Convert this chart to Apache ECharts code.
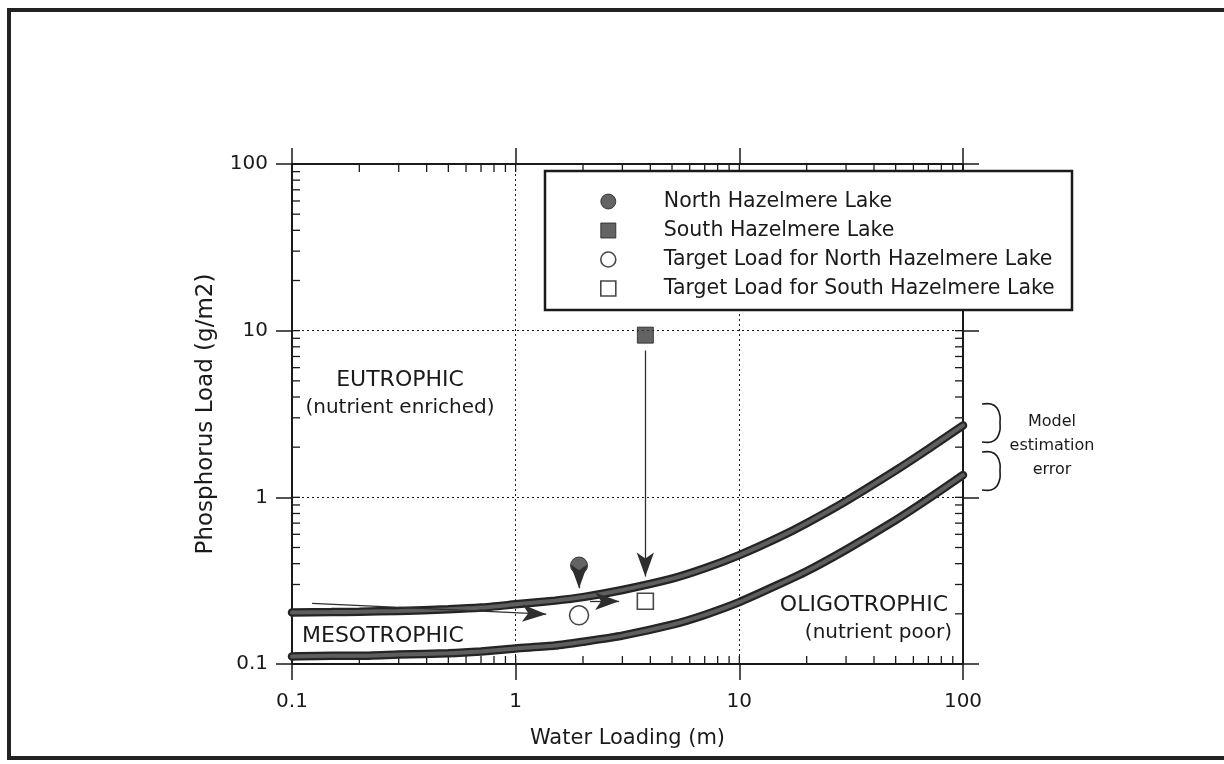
<!DOCTYPE html>
<html>
<head>
<meta charset="utf-8">
<title>Phosphorus loading vs water loading</title>
<script src="https://cdn.jsdelivr.net/npm/echarts@6/dist/echarts.min.js"></script>
<style>
  html, body { margin: 0; padding: 0; background: #ffffff; }
  #chart { width: 1224px; height: 764px; }
</style>
</head>
<body>
<div id="chart"></div>
<script>
// ---- data -------------------------------------------------------------
// axis decades (both axes run 0.1 .. 100 on a log scale)
const decadeTicks = [0.1, 1, 10, 100];
const decadeLabels = ['0.1', '1', '10', '100'];

// trophic boundary curves: phosphorus load (g/m2) against water loading (m)
const waterLoading = [0.1, 0.15, 0.2, 0.3, 0.5, 0.7, 1, 1.5, 2, 3, 5, 7, 10, 15, 20, 30, 50, 70, 100];
const eutrophicBoundary = [0.204, 0.205, 0.206, 0.208, 0.213, 0.218, 0.228, 0.240, 0.252, 0.278,
  0.325, 0.375, 0.45, 0.575, 0.70, 0.95, 1.45, 1.95, 2.70];
const oligotrophicBoundary = [0.111, 0.112, 0.112, 0.114, 0.116, 0.119, 0.124, 0.129, 0.136, 0.148,
  0.172, 0.197, 0.235, 0.30, 0.36, 0.485, 0.73, 0.98, 1.36];

// lakes [water loading, phosphorus load]
const northLake = [1.92, 0.39];
const southLake = [3.8, 9.4];
const northTarget = [1.92, 0.196];
const southTarget = [3.8, 0.238];

// load-reduction arrows [from, to]
const arrowInflow = [[0.123, 0.231], [1.37, 0.199]];
const arrowNorthDown = [[1.92, 0.36], [1.92, 0.285]];
const arrowSouthDown = [[3.8, 7.6], [3.8, 0.335]];
const arrowNorthToSouth = [[2.15, 0.238], [2.9, 0.238]];

const seriesNames = [
  'North Hazelmere Lake',
  'South Hazelmere Lake',
  'Target Load for North Hazelmere Lake',
  'Target Load for South Hazelmere Lake'
];

// ---- styling ----------------------------------------------------------
const FONT = '"DejaVu Sans", "Liberation Sans", sans-serif';
const INK = '#1a1a1a';
const FILL = '#3c3c3c';
const SQUARE_ICON = 'path://M0,0L10,0L10,10L0,10Z';
const AX_MIN = 0.1, AX_MAX = 100;

// minor ticks at 2..9 within each decade, plus inner halves of the 1 and 10 ticks
const innerTicks = [];
[0.1, 1, 10].forEach(function (d) {
  for (let k = 2; k <= 9; k++) innerTicks.push(+(d * k).toPrecision(3));
});
innerTicks.push(1, 10);

function decadeLabel(v) {
  const i = Math.round(Math.log10(v)) + 1;
  return decadeLabels[i] !== undefined ? decadeLabels[i] : '';
}

const chart = echarts.init(document.getElementById('chart'), null, { renderer: 'canvas' });

function logAxis(position, withLabels, name) {
  return {
    type: 'log',
    logBase: 10,
    min: AX_MIN,
    max: AX_MAX,
    position: position,
    splitNumber: 3,
    name: name || '',
    axisLine: { show: true, lineStyle: { color: INK, width: 2 } },
    axisTick: { show: true, inside: false, length: 16, lineStyle: { color: INK, width: 1.5 } },
    minorTick: { show: false },
    axisLabel: {
      show: withLabels,
      formatter: decadeLabel,
      color: INK,
      fontFamily: FONT,
      fontSize: 20
    },
    splitLine: withLabels
      ? { show: true, lineStyle: { color: INK, width: 1, type: [2, 3] } }
      : { show: false }
  };
}

const xBottom = logAxis('bottom', true, 'Water Loading (m)');
xBottom.nameLocation = 'middle';
xBottom.nameGap = 64;
xBottom.nameTextStyle = { fontFamily: FONT, fontSize: 21, color: INK };
xBottom.axisLabel.margin = 28;

const xTop = logAxis('top', false);

const yLeft = logAxis('left', true, 'Phosphorus Load (g/m2)');
yLeft.nameLocation = 'middle';
yLeft.nameGap = 74;
yLeft.nameRotate = 90;
yLeft.nameTextStyle = { fontFamily: FONT, fontSize: 23, color: INK };
yLeft.axisLabel.margin = 24;

const yRight = logAxis('right', false);

function arrowLine(pair) {
  return [{ coord: pair[0] }, { coord: pair[1] }];
}

const arrowStyle = {
  silent: true,
  animation: false,
  symbol: ['none', 'arrow'],
  symbolSize: [13, 24],
  label: { show: false },
  lineStyle: { color: '#2e2e2e', width: 1.3, type: 'solid' },
  emphasis: { disabled: true }
};

function boundarySeries(values, color, width, z) {
  return {
    type: 'line',
    data: waterLoading.map(function (x, i) { return [x, values[i]]; }),
    showSymbol: false,
    smooth: 0.2,
    silent: true,
    z: z,
    lineStyle: { color: color, width: width, cap: 'round' },
    emphasis: { disabled: true }
  };
}

// a right-hand brace ")" with short serifs, spanning y0..y1 at x
function bracePoints(x, y0, y1) {
  const mid = (y0 + y1) / 2;
  return [
    [x, y0], [x + 9, y0], [x + 15, y0 + 4], [x + 18, y0 + 12],
    [x + 18, mid], [x + 18, y1 - 12], [x + 15, y1 - 4], [x + 9, y1], [x, y1]
  ];
}

const option = {
  backgroundColor: '#ffffff',
  animation: false,
  grid: { left: 292, right: 261, top: 164, bottom: 100, containLabel: false },
  xAxis: [xBottom, xTop],
  yAxis: [yLeft, yRight],
  legend: {
    orient: 'vertical',
    left: 600,
    top: 191,
    z: 6,
    padding: 0,
    itemWidth: 15,
    itemHeight: 15,
    itemGap: 8,
    selectedMode: false,
    textStyle: { fontFamily: FONT, fontSize: 20.5, color: INK, padding: [0, 0, 0, 43] },
    data: [
      { name: seriesNames[0], icon: 'circle', itemStyle: { color: FILL, borderColor: '#222', borderWidth: 1 } },
      { name: seriesNames[1], icon: SQUARE_ICON, itemStyle: { color: FILL, borderColor: '#222', borderWidth: 1 } },
      { name: seriesNames[2], icon: 'circle', itemStyle: { color: '#fff', borderColor: INK, borderWidth: 1.6 } },
      { name: seriesNames[3], icon: SQUARE_ICON, itemStyle: { color: '#fff', borderColor: INK, borderWidth: 1.6 } }
    ]
  },
  series: [
    // boundary bands: dark rim with a lighter core
    boundarySeries(eutrophicBoundary, '#242424', 8.5, 2),
    boundarySeries(eutrophicBoundary, '#5e5e5e', 4, 2),
    boundarySeries(oligotrophicBoundary, '#242424', 8.5, 2),
    boundarySeries(oligotrophicBoundary, '#5e5e5e', 4, 2),
    {
      // minor ticks drawn inside the frame on all four sides
      type: 'custom',
      silent: true,
      clip: false,
      z: 2,
      data: innerTicks.map(function (v) { return [v, v]; }),
      renderItem: function (params, api) {
        const v = api.value(0);
        const b = api.coord([v, AX_MIN]);
        const t = api.coord([v, AX_MAX]);
        const l = api.coord([AX_MIN, v]);
        const r = api.coord([AX_MAX, v]);
        const len = 8;
        const style = { stroke: INK, lineWidth: 1.3 };
        return {
          type: 'group',
          children: [
            { type: 'line', shape: { x1: b[0], y1: b[1], x2: b[0], y2: b[1] - len }, style: style },
            { type: 'line', shape: { x1: t[0], y1: t[1], x2: t[0], y2: t[1] + len }, style: style },
            { type: 'line', shape: { x1: l[0], y1: l[1], x2: l[0] + len, y2: l[1] }, style: style },
            { type: 'line', shape: { x1: r[0], y1: r[1], x2: r[0] - len, y2: r[1] }, style: style }
          ]
        };
      }
    },
    {
      name: seriesNames[0],
      type: 'scatter',
      data: [northLake],
      symbol: 'circle',
      symbolSize: 17,
      z: 3,
      itemStyle: { color: FILL, borderColor: '#222', borderWidth: 1 },
      markLine: Object.assign({ data: [arrowLine(arrowNorthDown)] }, arrowStyle)
    },
    {
      name: seriesNames[1],
      type: 'scatter',
      data: [southLake],
      symbol: 'rect',
      symbolSize: 16,
      z: 3,
      itemStyle: { color: FILL, borderColor: '#222', borderWidth: 1 },
      markLine: Object.assign({ data: [arrowLine(arrowSouthDown)] }, arrowStyle)
    },
    {
      name: seriesNames[2],
      type: 'scatter',
      data: [northTarget],
      symbol: 'circle',
      symbolSize: 19,
      z: 3,
      itemStyle: { color: '#fff', borderColor: INK, borderWidth: 1.6 },
      markLine: Object.assign({ data: [arrowLine(arrowInflow)] }, arrowStyle)
    },
    {
      name: seriesNames[3],
      type: 'scatter',
      data: [southTarget],
      symbol: 'rect',
      symbolSize: 16,
      z: 3,
      itemStyle: { color: '#fff', borderColor: INK, borderWidth: 1.6 },
      markLine: Object.assign({ data: [arrowLine(arrowNorthToSouth)] }, arrowStyle)
    }
  ],
  graphic: [
    // outer frame, open on the right
    {
      type: 'polyline', z: 1, silent: true,
      shape: { points: [[1230, 10], [9, 10], [9, 758], [1230, 758]] },
      style: { stroke: '#222', lineWidth: 4, fill: null }
    },
    // legend box
    {
      type: 'rect', z: 5, silent: true,
      shape: { x: 545, y: 171, width: 527, height: 139 },
      style: { fill: '#ffffff', stroke: INK, lineWidth: 2.5 }
    },
    // trophic zone labels
    { type: 'text', z: 6, silent: true, x: 400, y: 380,
      style: { text: 'EUTROPHIC', font: '22px ' + FONT, fill: INK, align: 'center', verticalAlign: 'middle' } },
    { type: 'text', z: 6, silent: true, x: 400, y: 408,
      style: { text: '(nutrient enriched)', font: '20px ' + FONT, fill: INK, align: 'center', verticalAlign: 'middle' } },
    { type: 'text', z: 6, silent: true, x: 302, y: 636,
      style: { text: 'MESOTROPHIC', font: '22px ' + FONT, fill: INK, align: 'left', verticalAlign: 'middle' } },
    { type: 'text', z: 6, silent: true, x: 948, y: 605,
      style: { text: 'OLIGOTROPHIC', font: '22px ' + FONT, fill: INK, align: 'right', verticalAlign: 'middle' } },
    { type: 'text', z: 6, silent: true, x: 952, y: 633,
      style: { text: '(nutrient poor)', font: '20px ' + FONT, fill: INK, align: 'right', verticalAlign: 'middle' } },
    // model error braces and note
    {
      type: 'polyline', z: 6, silent: true,
      shape: { points: bracePoints(982, 404, 442), smooth: 0.3 },
      style: { stroke: INK, lineWidth: 1.6, fill: null }
    },
    {
      type: 'polyline', z: 6, silent: true,
      shape: { points: bracePoints(982, 452, 490), smooth: 0.3 },
      style: { stroke: INK, lineWidth: 1.6, fill: null }
    },
    { type: 'text', z: 6, silent: true, x: 1052, y: 422,
      style: { text: 'Model', font: '16px ' + FONT, fill: INK, align: 'center', verticalAlign: 'middle' } },
    { type: 'text', z: 6, silent: true, x: 1052, y: 446,
      style: { text: 'estimation', font: '16px ' + FONT, fill: INK, align: 'center', verticalAlign: 'middle' } },
    { type: 'text', z: 6, silent: true, x: 1052, y: 470,
      style: { text: 'error', font: '16px ' + FONT, fill: INK, align: 'center', verticalAlign: 'middle' } }
  ]
};

chart.setOption(option);
</script>
</body>
</html>
